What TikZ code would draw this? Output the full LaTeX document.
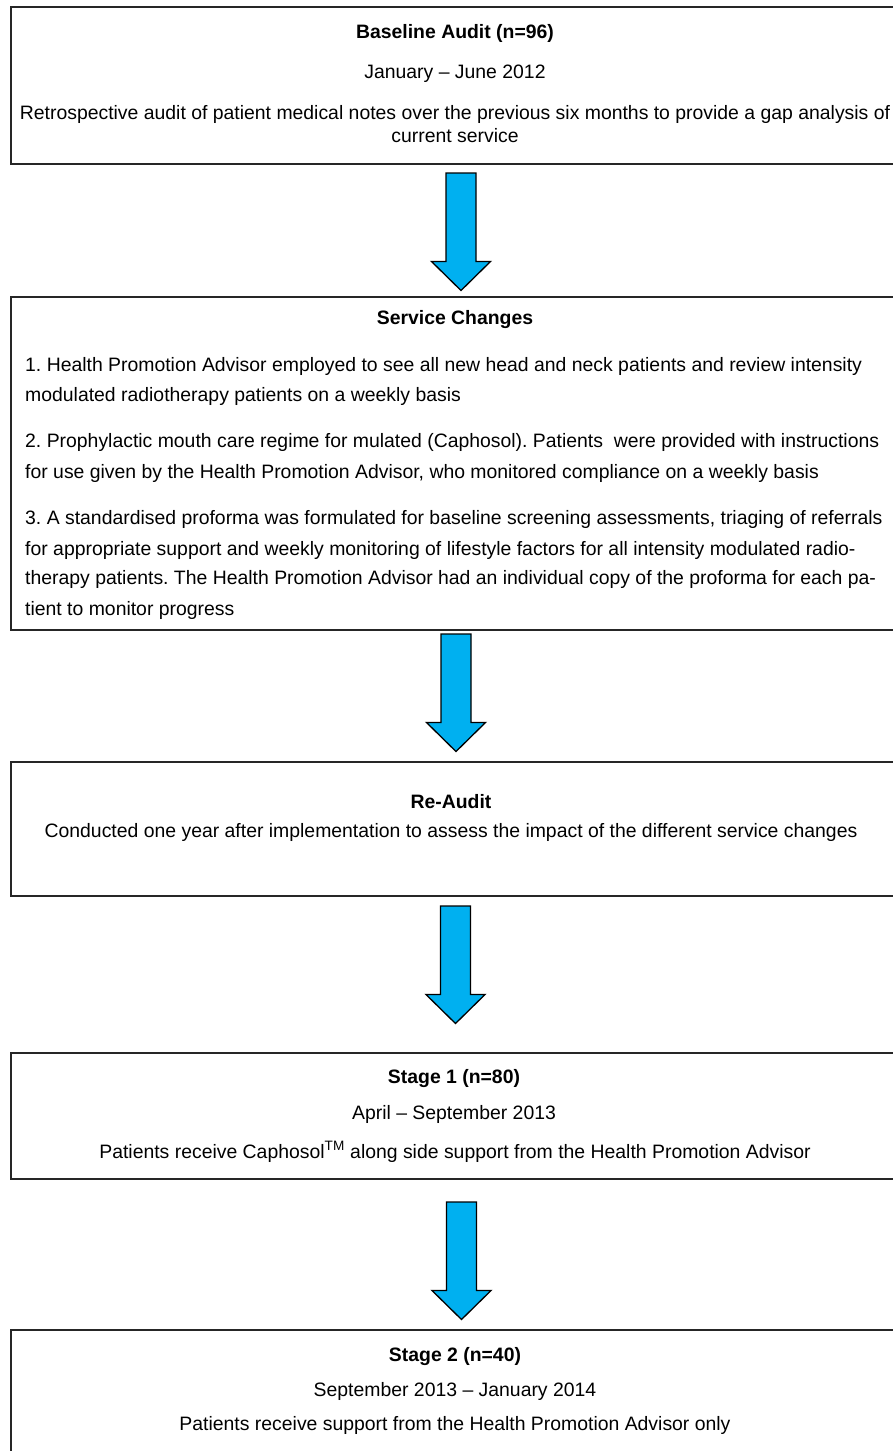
\documentclass[tikz,border=0pt]{standalone}
\usepackage{fontspec}
\setmainfont{Liberation Sans}
\frenchspacing
\begin{document}
\begin{tikzpicture}[x=1pt,y=-1pt,
  box/.style={draw=black!85, line width=1.8pt, fill=none, anchor=north west, inner sep=0pt},
  txt/.style={font=\fontsize{19.4}{23}\selectfont, inner sep=0pt, text height=14pt, text depth=4pt},
  ttl/.style={txt, font=\fontsize{19.4}{23}\selectfont\bfseries},
  lft/.style={txt, anchor=west},
  blockarrow/.style={draw=black, line width=1.3pt, fill=arrowblue, line join=miter}
]
\definecolor{arrowblue}{HTML}{00B0F0}
\useasboundingbox (0,0) rectangle (893,1451);
\clip (0,0) rectangle (893,1451);

% boxes
\node[box, minimum width=890pt, minimum height=157pt] (b1) at (10,6) {};
\node[box, minimum width=890pt, minimum height=333pt] (b2) at (10,296) {};
\node[box, minimum width=890pt, minimum height=134pt] (b3) at (10,761) {};
\node[box, minimum width=890pt, minimum height=126pt] (b4) at (10,1052) {};
\node[box, minimum width=890pt, minimum height=140pt] (b5) at (10,1329) {};

% box 1 text
\node[ttl] (t1a) at (455,33) {Baseline Audit (n=96)};
\node[txt] (t1b) at (455,73) {January – June 2012};
\node[txt] (t1c) at (455,114) {Retrospective audit of patient medical notes over the previous six months to provide a gap analysis of};
\node[txt] (t1d) at (455,137) {current service};

% box 2 text
\node[ttl] (t2a) at (455,319) {Service Changes};
\node[lft] (t2b) at (25,366) {1. Health Promotion Advisor employed to see all new head and neck patients and review intensity};
\node[lft] (t2c) at (25,396) {modulated radiotherapy patients on a weekly basis};
\node[lft] (t2d) at (25,442) {2. Prophylactic mouth care regime for mulated (Caphosol). Patients\ \ were provided with instructions};
\node[lft] (t2e) at (25,473) {for use given by the Health Promotion Advisor, who monitored compliance on a weekly basis};
\node[lft] (t2f) at (25,519) {3. A standardised proforma was formulated for baseline screening assessments, triaging of referrals};
\node[lft] (t2g) at (25,550) {for appropriate support and weekly monitoring of lifestyle factors for all intensity modulated radio-};
\node[lft] (t2h) at (25,579) {therapy patients. The Health Promotion Advisor had an individual copy of the proforma for each pa-};
\node[lft] (t2i) at (25,610) {tient to monitor progress};

% box 3 text
\node[ttl] (t3a) at (451,803) {Re-Audit};
\node[txt] (t3b) at (451,832) {Conducted one year after implementation to assess the impact of the different service changes};

% box 4 text
\node[ttl] (t4a) at (454,1078) {Stage 1 (n=80)};
\node[txt] (t4b) at (454,1114) {April – September 2013};
\node[txt] (t4c) at (455,1153) {Patients receive Caphosol\textsuperscript{TM} along side support from the Health Promotion Advisor};

% box 5 text
\node[ttl] (t5a) at (455,1356) {Stage 2 (n=40)};
\node[txt] (t5b) at (455,1391) {September 2013 – January 2014};
\node[txt] (t5c) at (455,1425) {Patients receive support from the Health Promotion Advisor only};

% block arrows
\foreach \cx/\ty in {461/173, 456/634, 455.5/906, 461.5/1202}{
  \draw[blockarrow, shift={(\cx,\ty)}] (-15,0) -- (15,0) -- (15,88.5) -- (29.5,88.5) -- (0,117.5) -- (-29.5,88.5) -- (-15,88.5) -- cycle;
}
\end{tikzpicture}
\end{document}
